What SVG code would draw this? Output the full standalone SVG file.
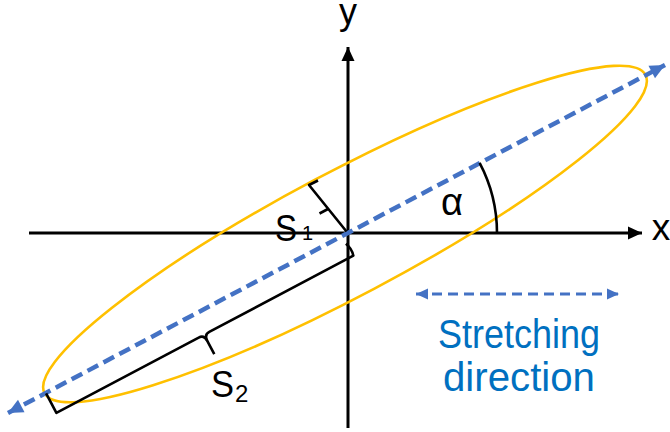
<svg xmlns="http://www.w3.org/2000/svg" width="670" height="432" viewBox="0 0 670 432">
<style>
.axis{stroke:#000;stroke-width:3;fill:none}
.brace{stroke:#000;stroke-width:2.6;fill:none;stroke-linejoin:round}
.dir{stroke:#4472C4;stroke-width:4.5;stroke-dasharray:12 6;fill:none}
.lbl{font-family:"Liberation Sans",Arial,sans-serif;fill:#000}
.blue{font-family:"Liberation Sans",Arial,sans-serif;fill:#0070C0;font-size:40px;text-anchor:middle}
</style>
<defs>
<marker id="ab" markerUnits="userSpaceOnUse" markerWidth="16" markerHeight="16" viewBox="0 0 16 16" refX="15" refY="8" orient="auto-start-reverse"><path d="M1,1.5 L15,8 L1,14.5 Z" fill="#000"/></marker>
<marker id="bb" markerUnits="userSpaceOnUse" markerWidth="18" markerHeight="18" viewBox="0 0 18 18" refX="17" refY="9" orient="auto-start-reverse"><path d="M2,2 L17,9 L2,16 Z" fill="#4472C4"/></marker>
<marker id="bs" markerUnits="userSpaceOnUse" markerWidth="14" markerHeight="14" viewBox="0 0 14 14" refX="13" refY="7" orient="auto-start-reverse"><path d="M1,1.5 L13,7 L1,12.5 Z" fill="#4472C4"/></marker>
</defs>
<g id="axes">
<line class="axis" x1="29" y1="233" x2="642" y2="233" marker-end="url(#ab)"/>
<line class="axis" x1="348" y1="428" x2="348" y2="47" marker-end="url(#ab)"/>
</g>
<g id="ellipse">
<ellipse cx="345" cy="234" rx="340" ry="62" transform="rotate(-27.9 345 234)" fill="none" stroke="#FFC000" stroke-width="2.6"/>
</g>
<g id="connectors">
<line class="dir" x1="8" y1="413" x2="665" y2="65" marker-start="url(#bb)" marker-end="url(#bb)"/>
<line x1="416" y1="294" x2="619" y2="294" stroke="#4472C4" stroke-width="3" stroke-dasharray="10 6" marker-start="url(#bs)" marker-end="url(#bs)"/>
</g>
<g id="angle">
<path class="brace" d="M497,233 A150,150 0 0 0 479.6,162.8"/>
<text class="lbl" x="452" y="215" font-size="38" text-anchor="middle">α</text>
</g>
<g id="s1">
<path class="brace" d="M346.5,231.5 L309,185 L318,180.5"/>
<path class="brace" d="M328,209 L319.5,213.5"/>
<text class="lbl" x="275" y="241" font-size="36" textLength="22" lengthAdjust="spacingAndGlyphs">S</text>
<text class="lbl" x="302" y="240" font-size="20">1</text>
</g>
<g id="s2">
<g transform="translate(347,233) rotate(-27.9)">
<path class="brace" d="M-341,1 L-341,23 L-180,23 Q-174,23 -174,30 L-174,45"/>
<path class="brace" d="M-174,30 Q-174,23 -168,23 L-5,23 Q-3,16 -6,9"/>
</g>
<text class="lbl" x="211" y="397" font-size="37" textLength="23" lengthAdjust="spacingAndGlyphs">S</text>
<text class="lbl" x="235" y="402" font-size="24">2</text>
</g>
<g id="labels">
<text class="lbl" x="348" y="24" font-size="36" text-anchor="middle">y</text>
<text class="lbl" x="661" y="240" font-size="37" text-anchor="middle">x</text>
<text class="blue" x="519" y="348" textLength="162" lengthAdjust="spacingAndGlyphs">Stretching</text>
<text class="blue" x="519" y="391" textLength="152" lengthAdjust="spacingAndGlyphs">direction</text>
</g>
</svg>
